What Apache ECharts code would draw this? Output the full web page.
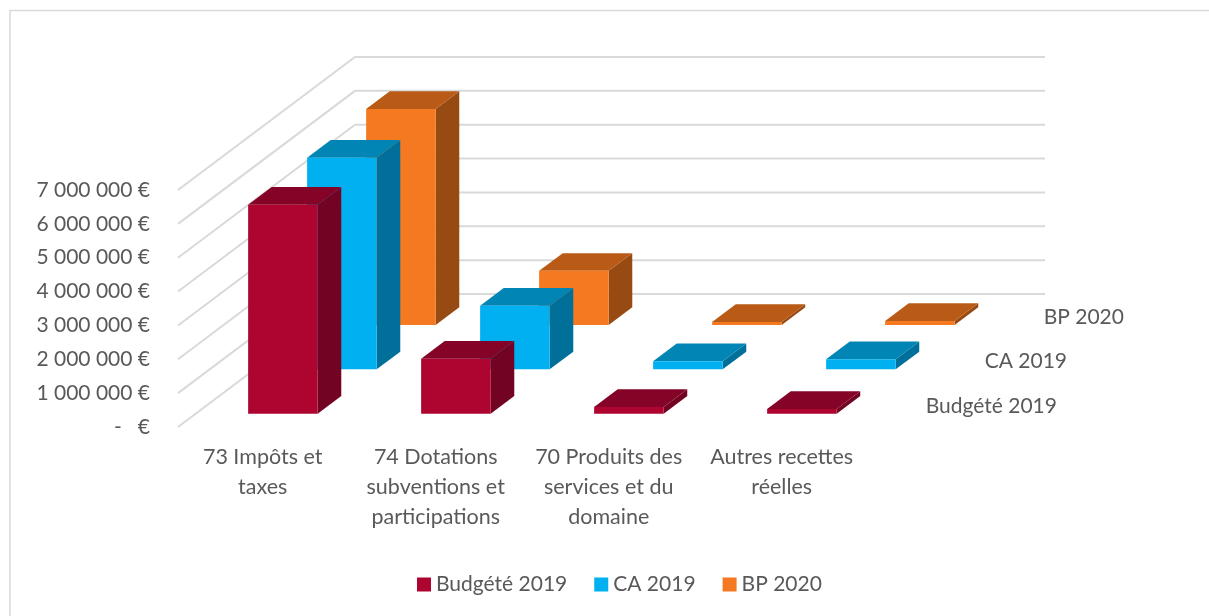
<!DOCTYPE html>
<html>
<head>
<meta charset="utf-8">
<script src="https://cdn.jsdelivr.net/npm/echarts@6/dist/echarts.min.js"></script>
<style>html,body{margin:0;padding:0;background:#fff}#c{width:1209px;height:616px}</style>
</head>
<body>
<div id="c"></div>
<script>
const categories = ['73 Impôts et\ntaxes', '74 Dotations\nsubventions et\nparticipations', '70 Produits des\nservices et du\ndomaine', 'Autres recettes\nréelles'];
const budget2019 = [6170000, 1620000, 200000, 140000];
const ca2019 = [6250000, 1880000, 240000, 300000];
const bp2020 = [6380000, 1600000, 90000, 120000];
const seriesNames = ['Budgété 2019', 'CA 2019', 'BP 2020'];
const ticks = [0, 1000000, 2000000, 3000000, 4000000, 5000000, 6000000, 7000000];

const DEPTH_X = 177, DEPTH_Y = -133, SLOTS = 3;
const BAR_W = 0.402, BAR_NEAR = 0.3, BAR_FAR = 0.7;
const FONT = 'Lato';
const TEXT = '#595959';
const palettes = [
  { front: '#AE0530', top: '#850326', side: '#730322' },
  { front: '#00B0F0', top: '#0085B5', side: '#00709A' },
  { front: '#F47920', top: '#B95B16', side: '#974A12' }
];

function poly(points, fill) {
  return { type: 'polygon', silent: true, shape: { points }, style: { fill } };
}

function barSeries(name, values, slot) {
  const c = palettes[slot];
  return {
    type: 'custom', name, z: 10 - slot,
    itemStyle: { color: c.front },
    encode: { x: 0, y: 1 },
    data: values.map((v, i) => [i, v]),
    renderItem(params, api) {
      const cat = api.value(0);
      const base = api.coord([cat, 0]);
      const top = api.coord([cat, api.value(1)]);
      const w = api.size([1, 0])[0];
      const nx = DEPTH_X * (slot + BAR_NEAR) / SLOTS, ny = DEPTH_Y * (slot + BAR_NEAR) / SLOTS;
      const fx = DEPTH_X * (slot + BAR_FAR) / SLOTS, fy = DEPTH_Y * (slot + BAR_FAR) / SLOTS;
      const x0 = base[0] - w * BAR_W / 2, x1 = base[0] + w * BAR_W / 2;
      const children = [
        poly([[x1 + nx, base[1] + ny], [x1 + fx, base[1] + fy], [x1 + fx, top[1] + fy], [x1 + nx, top[1] + ny]], c.side),
        poly([[x0 + nx, top[1] + ny], [x1 + nx, top[1] + ny], [x1 + fx, top[1] + fy], [x0 + fx, top[1] + fy]], c.top),
        poly([[x0 + nx, base[1] + ny], [x1 + nx, base[1] + ny], [x1 + nx, top[1] + ny], [x0 + nx, top[1] + ny]], c.front)
      ];
      if (cat === categories.length - 1) {
        children.push({
          type: 'text', silent: true,
          style: {
            x: base[0] + w / 2 + 55 + DEPTH_X * slot / SLOTS,
            y: base[1] - 21 + DEPTH_Y * slot / SLOTS,
            text: name, fill: TEXT, font: '21px ' + FONT,
            textAlign: 'left', textVerticalAlign: 'middle'
          }
        });
      }
      return { type: 'group', children };
    }
  };
}

const wallSeries = {
  type: 'custom', z: 1, silent: true,
  encode: { x: 0, y: 1 },
  data: ticks.map(v => [0, v]),
  renderItem(params, api) {
    const p = api.coord([0, api.value(1)]);
    const w = api.size([1, 0])[0];
    const left = p[0] - w / 2;
    return {
      type: 'polyline', silent: true,
      shape: { points: [[left - 0.7, p[1]], [left + DEPTH_X - 0.7, p[1] + DEPTH_Y], [left + w * categories.length + DEPTH_X - 2.7, p[1] + DEPTH_Y]] },
      style: { stroke: '#D9D9D9', lineWidth: 2, fill: null }
    };
  }
};

const chart = echarts.init(document.getElementById('c'), null, { renderer: 'canvas' });
chart.setOption({
  animation: false,
  backgroundColor: '#fff',
  textStyle: { fontFamily: FONT },
  graphic: [{
    type: 'rect', silent: true, z: 0,
    shape: { x: 10, y: 10.5, width: 1300, height: 700 },
    style: { fill: 'none', stroke: '#D9D9D9', lineWidth: 1.5 }
  }],
  legend: {
    left: 412, top: 569, itemWidth: 14, itemHeight: 14, itemGap: 27, icon: 'rect',
    data: seriesNames,
    textStyle: { color: TEXT, fontSize: 21, fontFamily: FONT }
  },
  grid: { left: 178.7, right: 338.3, top: 190, bottom: 189, containLabel: false },
  xAxis: {
    type: 'category', data: categories,
    axisLine: { show: false }, axisTick: { show: false },
    axisLabel: { interval: 0, color: TEXT, fontSize: 21.5, fontFamily: FONT, lineHeight: 30, margin: 15.5, padding: [0, 5, 0, 0] }
  },
  yAxis: {
    type: 'value', min: 0, max: 7000000, interval: 1000000,
    axisLine: { show: false }, axisTick: { show: false }, splitLine: { show: false },
    axisLabel: {
      color: TEXT, fontSize: 21, fontFamily: FONT, margin: 28.7, padding: [5, 0, 0, 0],
      formatter: v => v === 0 ? '-   €' : String(v).replace(/\B(?=(\d{3})+$)/g, ' ') + ' €'
    }
  },
  series: [wallSeries, barSeries(seriesNames[0], budget2019, 0), barSeries(seriesNames[1], ca2019, 1), barSeries(seriesNames[2], bp2020, 2)]
});
</script>
</body>
</html>
